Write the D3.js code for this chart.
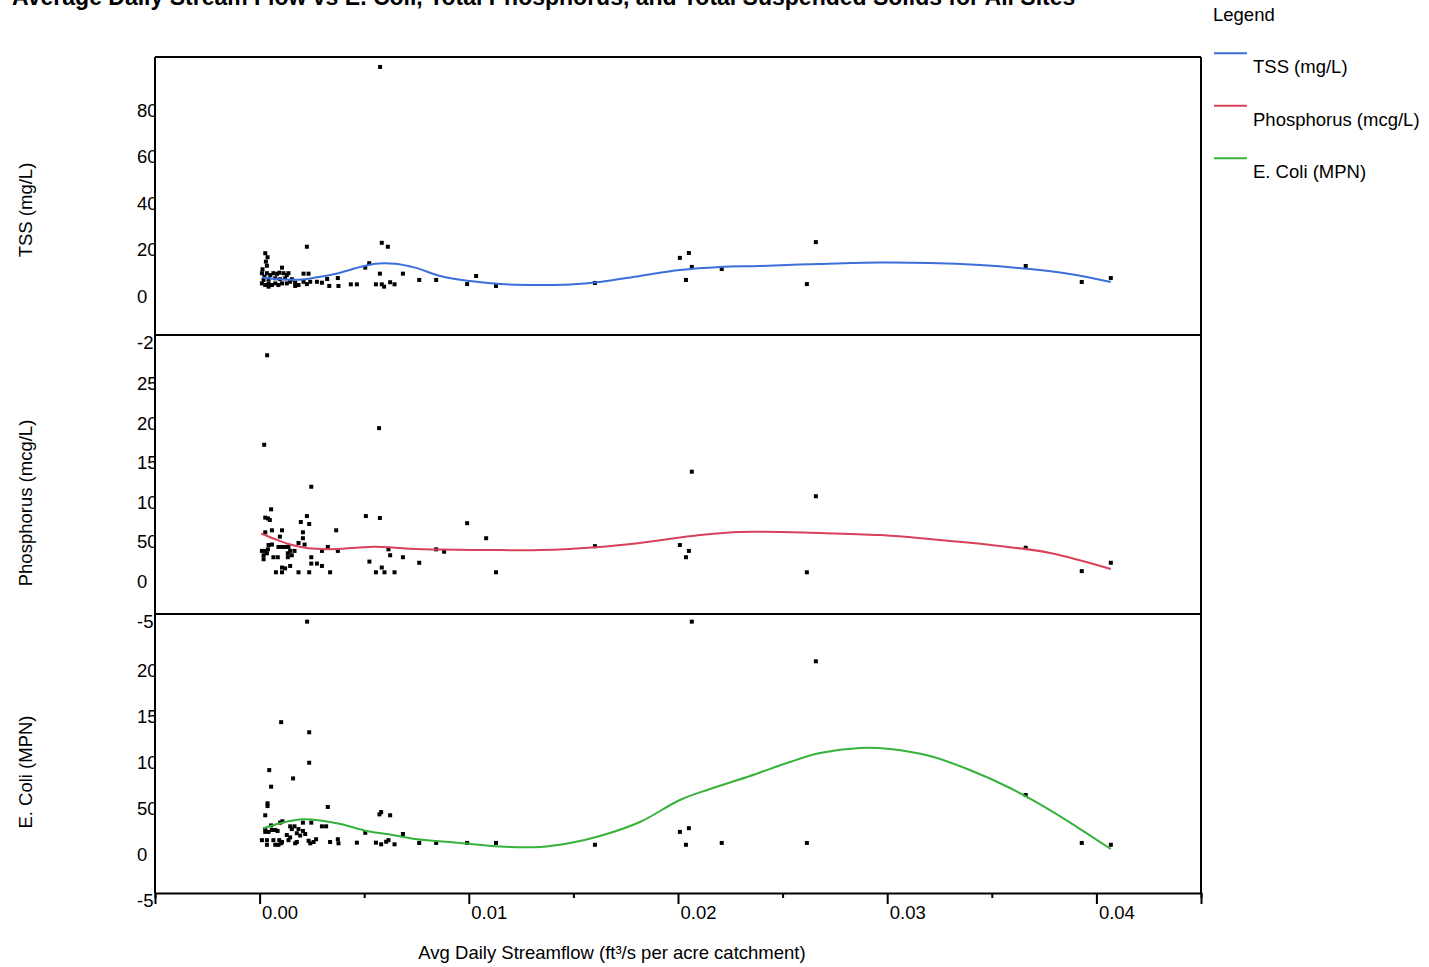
<!DOCTYPE html>
<html>
<head>
<meta charset="utf-8">
<script src="https://cdn.jsdelivr.net/npm/d3@7"></script>
<style>
  html, body { margin: 0; padding: 0; background: #fff; }
  svg { display: block; font-family: "Liberation Sans", Arial, sans-serif; }
</style>
</head>
<body>
<svg id="chart" width="1429" height="967"></svg>
<script>
// ---------------- DATA ----------------
const titleText = "Average Daily Stream Flow vs E. Coli, Total Phosphorus, and Total Suspended Solids for All Sites";
const xTitle = "Avg Daily Streamflow (ft\u00B3/s per acre catchment)";
const seriesNames = ["TSS (mg/L)", "Phosphorus (mcg/L)", "E. Coli (MPN)"];
const seriesColors = ["#3d6fdb", "#d9415a", "#36b23a"];

const xMajorTicks = [0, 0.01, 0.02, 0.03, 0.04];
const xMinorTicks = [-0.005, 0.005, 0.015, 0.025, 0.035, 0.045];

const tssTicks = [-20, 0, 20, 40, 60, 80];
const phosTicks = [-50, 0, 50, 100, 150, 200, 250];
const ecoliTicks = [-50, 0, 50, 100, 150, 200];

// TSS observations
const tssFlow = [0.00576,0.00226,0.00584,0.00613,0.00027,0.00038,0.00030,0.00035,0.00014,0.00107,0.00524,0.00505,0.00575,0.00685,
  0.00333,0.00377,0.00374,0.00323,0.00436,0.00465,0.00556,0.00584,0.00595,0.00624,0.00645,0.00763,0.00844,0.00992,0.01035,0.01130,
  0.01603,0.02009,0.02038,0.02052,0.02066,0.02209,0.02616,0.02659,0.03662,0.03930,0.04069,
  0.00011,0.00023,0.00035,0.00051,0.00066,0.00083,0.00094,0.00114,0.00130,0.00138,0.00210,0.00234,
  0.00011,0.00027,0.00043,0.00059,0.00075,0.00090,0.00107,0.00130,0.00146,0.00170,0.00186,0.00210,0.00226,0.00242,0.00274,0.00298,
  0.00043,0.00075,0.00098,0.00122,0.00154,0.00043,0.00170,0.00019];
const tssValues = [98.6,21.1,22.8,21.1,18.3,16.6,14.7,12.9,11.4,12.1,14.0,12.1,9.5,9.5,
  4.2,4.2,7.6,7.2,4.9,4.9,4.9,4.9,3.9,5.8,4.9,6.8,6.8,5.0,8.5,4.2,
  5.5,16.3,6.8,18.4,12.4,11.5,5.0,23.1,12.8,5.9,7.6,
  9.7,8.2,9.7,8.9,9.7,9.4,9.9,9.7,8.9,9.7,9.5,9.5,
  5.3,4.6,5.3,4.6,5.3,4.6,5.3,5.3,6.0,5.6,4.6,6.0,5.0,6.0,6.0,5.6,
  7.1,7.5,7.1,7.5,7.1,3.9,4.2,6.8];

// Phosphorus observations
const phosFlow = [0.00036,0.00022,0.00247,0.00571,0.00055,0.00027,0.00040,0.00049,0.00226,0.00197,0.00237,0.00508,0.00575,
  0.00027,0.00059,0.00107,0.00366,0.00207,0.00097,0.00207,0.00186,0.00215,0.00043,0.00059,0.00090,0.00107,0.00122,0.00138,0.00326,
  0.00011,0.00027,0.00040,0.00146,0.00167,0.00298,0.00374,0.00616,0.00019,0.00035,0.00135,0.00154,0.00624,
  0.00066,0.00087,0.00135,0.00247,0.00685,0.00019,0.00525,0.00247,0.00274,0.00298,0.00146,0.00107,0.00122,0.00584,
  0.00078,0.00107,0.00186,0.00237,0.00337,0.00556,0.00597,0.00645,
  0.00763,0.00844,0.00882,0.00992,0.01083,0.01130,0.01603,0.02009,0.02038,0.02052,0.02066,0.02616,0.02659,0.03662,0.03930,0.04069];
const phosValues = [285,172,119,193,90.5,80,79,77,82,74.5,72,82,79.5,
  61.5,64,64,64,61.5,56,54,48,46,45.5,46,43,43,43,43,43,
  38,38,40,38,38,38,38,40,32.5,35,35,32.5,32.5,
  30,30,30,30,30,27.5,24.5,22,22,19,19,17,16,17,
  11,11,11,11,11,11,11,11,
  23,40,37,73,54,11,44,45.5,30,38,138,11,107,42,12.5,23];

// E. Coli observations
const ecoliFlow = [0.00227,0.00103,0.00237,0.00237,0.00046,0.00160,0.00055,0.00038,0.00038,0.00326,0.00027,0.00581,0.00573,0.00624,
  0.00098,0.00109,0.00207,0.00247,0.00318,0.00027,0.00055,0.00146,0.00167,0.00154,0.00186,0.00207,0.00298,
  0.00027,0.00043,0.00059,0.00075,0.00505,0.00685,0.00086,0.00130,0.00146,0.00178,0.00194,0.00218,
  0.00011,0.00035,0.00066,0.00094,0.00107,0.00138,0.00178,0.00234,0.00258,0.00270,0.00337,0.00374,0.00377,
  0.00035,0.00075,0.00090,0.00103,0.00170,0.00242,0.00465,0.00556,0.00581,0.00605,0.00616,0.00645,
  0.00763,0.00844,0.00992,0.01130,0.01603,0.02009,0.02038,0.02052,0.02066,0.02209,0.02616,0.02659,0.03662,0.03930,0.04069];
const ecoliValues = [252,143,132,99,91,82,73,55,52,51,42,45.5,43,42,
  34,35.5,34,34,30,27,31,30,30,27,27,25,30,
  24,24,26,26,23,21.7,25,20.6,18,22.5,20,21.7,
  15,15,15,15,13,15,13,14.4,13,16,13,16,11.6,
  10,10,10,11.6,11.6,11.6,12.3,12.3,10.5,13.3,15,10.5,
  12,12,12,12,10,24,10,28,252,12,12,209,64,12,10];

// Smoothed trend curves
const tssCurveFlow = [0.00011,0.00075,0.00186,0.00266,0.00377,0.00457,0.00552,0.00648,0.00743,0.00863,0.01006,0.01150,0.01341,0.01484,0.01627,0.01818,0.02009,0.02201,0.02392,0.02679,0.02966,0.03204,0.03443,0.03682,0.03873,0.04069];
const tssCurveValues = [7.8,7.2,6.9,7.8,9.7,11.8,13.8,13.8,12.1,8.5,6.3,5.0,4.6,4.8,5.9,8.5,11.1,12.4,12.8,13.7,14.3,14.1,13.2,11.5,9.4,5.9];
const phosCurveFlow = [0.00008,0.00075,0.00138,0.00218,0.00298,0.00377,0.00457,0.00552,0.00648,0.00743,0.00863,0.01150,0.01341,0.01627,0.01818,0.02105,0.02296,0.02679,0.02966,0.03252,0.03539,0.03778,0.04069];
const phosCurveValues = [60,52.7,46.7,42,40.4,40.4,42,43.3,42,40.4,39.8,39,39,43,48,58,62,60.6,58,51.8,44.2,35.4,15.2];
const ecoliCurveFlow = [0.00019,0.00098,0.00202,0.00298,0.00393,0.00505,0.00616,0.00743,0.00958,0.01150,0.01341,0.01484,0.01627,0.01818,0.02009,0.02153,0.02344,0.02535,0.02679,0.02870,0.03013,0.03204,0.03395,0.03587,0.03778,0.04069];
const ecoliCurveValues = [27.9,33.3,37.6,36.1,32.2,25.3,21.4,16.3,11.9,8.1,7.6,11.9,19.5,34.7,58.6,70.5,84.6,99.8,109.5,115,113.9,106.3,91.1,71.6,47.7,5.4];

// ---------------- LAYOUT ----------------
const FONT = 18.5;
const left = 155, right = 1201;
const panelTops = [57, 335, 614];
const panelBottom = 893;
const svg = d3.select("#chart");

const x = d3.scaleLinear().domain([-0.005, 0.045]).range([left, right]);

const panels = [
  { flow: tssFlow, vals: tssValues, cFlow: tssCurveFlow, cVals: tssCurveValues, ticks: tssTicks,
    y: d3.scaleLinear().domain([-20, 100]).range([342.1, 63.7]), color: seriesColors[0], title: seriesNames[0], titleY: 210 },
  { flow: phosFlow, vals: phosValues, cFlow: phosCurveFlow, cVals: phosCurveValues, ticks: phosTicks,
    y: d3.scaleLinear().domain([-50, 300]).range([620.6, 343.4]), color: seriesColors[1], title: seriesNames[1], titleY: 503 },
  { flow: ecoliFlow, vals: ecoliValues, cFlow: ecoliCurveFlow, cVals: ecoliCurveValues, ticks: ecoliTicks,
    y: d3.scaleLinear().domain([-50, 250]).range([900.1, 623.5]), color: seriesColors[2], title: seriesNames[2], titleY: 772 }
];

// clip for y tick labels (cut by the axis line)
svg.append("defs").append("clipPath").attr("id", "yclip")
  .append("rect").attr("x", 0).attr("y", 0).attr("width", left - 1).attr("height", 967);

// Title (partly above the top edge, as in the source)
svg.append("text").attr("x", 12).attr("y", 5)
  .attr("font-size", 23).attr("font-weight", "bold").attr("fill", "#000")
  .text(titleText);

// Panels
panels.forEach((p, i) => {
  // points
  svg.append("g").selectAll("rect").data(p.flow.map((f, j) => [f, p.vals[j]])).join("rect")
    .attr("x", d => x(d[0]) - 2).attr("y", d => p.y(d[1]) - 2)
    .attr("width", 4).attr("height", 4).attr("fill", "#000");
  // trend curve
  const line = d3.line().x(d => x(d[0])).y(d => p.y(d[1])).curve(d3.curveCatmullRom.alpha(0.5));
  svg.append("path").datum(p.cFlow.map((f, j) => [f, p.cVals[j]]))
    .attr("d", line).attr("fill", "none").attr("stroke", p.color).attr("stroke-width", 2);
  // y axis labels
  const ax = d3.axisLeft(p.y).tickValues(p.ticks).tickSize(0).tickFormat(d => String(d));
  const wrap = svg.append("g").attr("clip-path", "url(#yclip)");
  const g = wrap.append("g").attr("transform", `translate(${left},0)`).call(ax);
  g.select(".domain").remove();
  g.selectAll("text").attr("x", 137 - left).attr("dy", "0.35em").attr("text-anchor", "start")
    .attr("font-size", FONT).attr("font-family", "Liberation Sans, Arial, sans-serif").attr("fill", "#000");
  // y title
  svg.append("text").attr("transform", `translate(25,${p.titleY}) rotate(-90)`)
    .attr("text-anchor", "middle").attr("dominant-baseline", "central")
    .attr("font-size", FONT).attr("fill", "#000").text(p.title);
});

// Frame lines
const frame = svg.append("g").attr("stroke", "#000").attr("stroke-width", 2).attr("fill", "none");
frame.append("line").attr("x1", left).attr("x2", left).attr("y1", panelTops[0]).attr("y2", panelBottom);
frame.append("line").attr("x1", right).attr("x2", right).attr("y1", panelTops[0]).attr("y2", panelBottom);
panelTops.forEach(t => frame.append("line").attr("x1", left).attr("x2", right).attr("y1", t).attr("y2", t));

// X axis (major + minor ticks)
const xAxis = d3.axisBottom(x).tickValues(xMajorTicks).tickSize(11).tickPadding(0).tickFormat(d3.format(".2f"));
const gx = svg.append("g").attr("transform", `translate(0,${panelBottom})`).call(xAxis);
gx.select(".domain").attr("stroke", "#000").attr("stroke-width", 2);
gx.selectAll(".tick line").attr("stroke", "#000").attr("stroke-width", 2);
gx.selectAll("text").attr("text-anchor", "start").attr("x", 2).attr("y", 20).attr("dy", "0.35em")
  .attr("font-size", FONT).attr("font-family", "Liberation Sans, Arial, sans-serif").attr("fill", "#000");
const xMinor = d3.axisBottom(x).tickValues(xMinorTicks).tickSize(5).tickFormat("");
const gm = svg.append("g").attr("transform", `translate(0,${panelBottom})`).call(xMinor);
gm.select(".domain").remove();
gm.selectAll(".tick line").attr("stroke", "#000").attr("stroke-width", 2);

// X title
svg.append("text").attr("x", 612).attr("y", 959).attr("text-anchor", "middle")
  .attr("font-size", FONT).attr("fill", "#000").text(xTitle);

// Legend
const lg = svg.append("g");
lg.append("text").attr("x", 1213).attr("y", 20.7).attr("font-size", FONT).attr("fill", "#000").text("Legend");
seriesNames.forEach((name, i) => {
  const ly = 53.3 + i * 52.5;
  lg.append("line").attr("x1", 1214).attr("x2", 1247).attr("y1", ly).attr("y2", ly)
    .attr("stroke", seriesColors[i]).attr("stroke-width", 2);
  lg.append("text").attr("x", 1253).attr("y", ly + 20).attr("font-size", FONT).attr("fill", "#000").text(name);
});
</script>
</body>
</html>
